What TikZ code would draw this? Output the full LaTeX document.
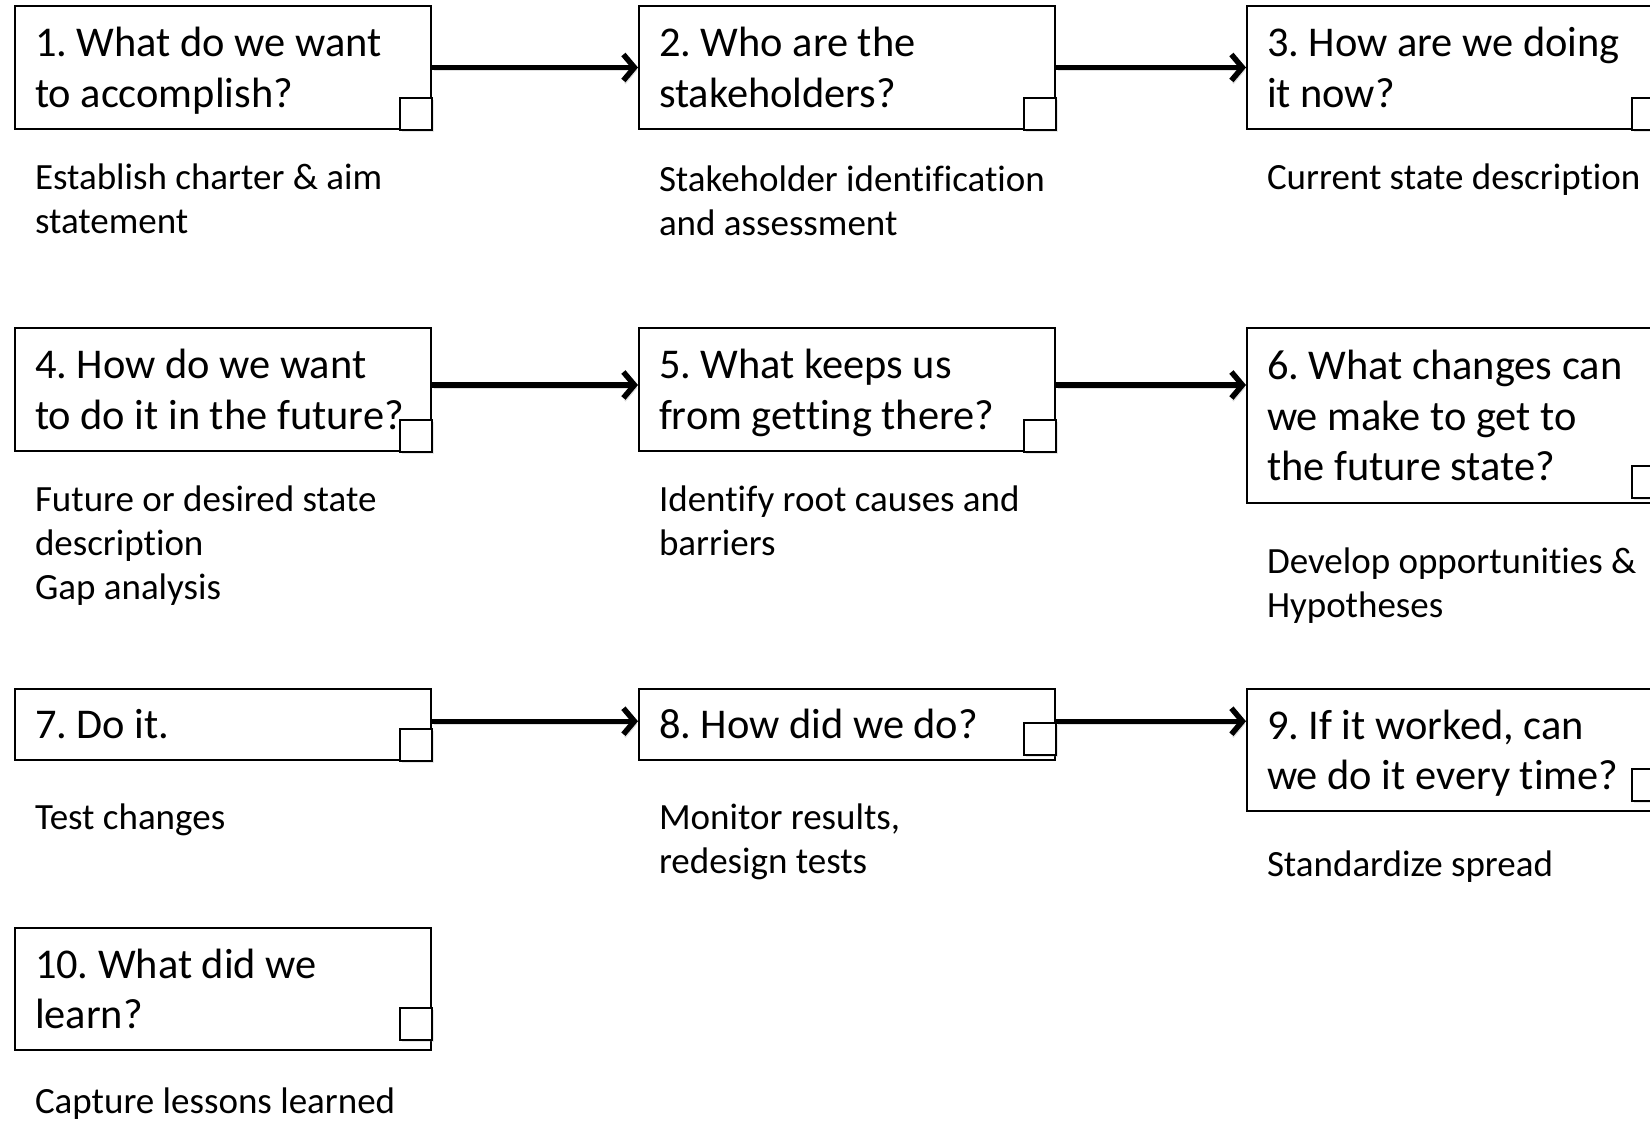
\documentclass[tikz,border=0pt]{standalone}
\usepackage{fontspec}
\setmainfont{Carlito}[Ligatures=NoCommon]
\usetikzlibrary{arrows.meta,shadows}

\newcommand\nodesc[1]{\raisebox{0pt}[\height][0pt]{#1}}

\tikzset{every picture/.style={line width=2pt}}
\tikzset{
  stepbox/.style={draw, rectangle, anchor=north west, minimum width=416pt,
    text width=376pt, align=flush left, inner xsep=20pt, inner ysep=0pt,
    font=\fontsize{42.4}{50.5}\selectfont\frenchspacing},
  note/.style={anchor=north west, inner sep=0pt, align=flush left,
    font=\fontsize{37}{44}\selectfont\frenchspacing},
  flow/.style={line width=5.5pt, -{Straight Barb[length=11pt,width=26pt]},
    preaction={draw=black!12, transform canvas={shift={(1.5pt,-3pt)}}}},
  checkbox/.style={draw, fill=white, line width=2pt,
    drop shadow={opacity=0.2, shadow xshift=2pt, shadow yshift=-2pt}}
}

\begin{document}
\begin{tikzpicture}[x=1pt,y=1pt,yscale=-1,xscale=1]
\useasboundingbox (0,0) rectangle (1650,1121);
\clip (0,0) rectangle (1650,1121);

% Row 1
\node[stepbox, minimum height=123pt] (b1) at (14,5) {1. What do we want\\\nodesc{to accomplish?}};
\node[stepbox, minimum height=123pt] (b2) at (638,5) {2. Who are the\\stakeholders?};
\node[stepbox, minimum height=123pt] (b3) at (1246,5) {3. How are we doing\\it now?};
% Row 2
\node[stepbox, minimum height=123pt] (b4) at (14,327) {4. How do we want\\to do it in the future?};
\node[stepbox, minimum height=123pt] (b5) at (638,327) {5. What keeps us\\\nodesc{from getting there?}};
\node[stepbox, minimum height=175pt] (b6) at (1246,327) {6. What changes can\\we make to get to\\the future state?};
% Row 3
\node[stepbox, minimum height=70.5pt] (b7) at (14,688) {7. Do it.};
\node[stepbox, minimum height=70.5pt] (b8) at (638,688) {8. How did we do?};
\node[stepbox, minimum height=122pt] (b9) at (1246,688) {9. If it worked, can\\\nodesc{we do it every time?}};
% Row 4
\node[stepbox, minimum height=122pt] (b10) at (14,927) {10. What did we\\learn?};

% small squares
\foreach \b/\o in {b1/0,b2/0,b3/0,b4/0,b5/0,b6/6,b7/0,b8/6,b9/10.7,b10/10.7}
  \draw[checkbox] ([yshift=-\o pt]\b.south east) rectangle ++(-32,-32);

% Arrows
\draw[flow] (b1.east) -- (b2.west);
\draw[flow] (b2.east) -- (b3.west);
\draw[flow] ([yshift=-4.5pt]b4.east) -- ([yshift=-4.5pt]b5.west);
\draw[flow] ([yshift=-4.5pt]b5.east) -- ([yshift=-4.5pt]b5.east -| b6.west);
\draw[flow] ([yshift=-3pt]b7.east) -- ([yshift=-3pt]b8.west);
\draw[flow] ([yshift=-3pt]b8.east) -- ([yshift=-3pt]b8.east -| b9.west);

% Text Node
\node[note] (n1) at (34,158) {\strut Establish charter \& aim\\statement};
% Text Node
\node[note] (n2) at (658,160) {\strut Stakeholder identification\\and assessment};
% Text Node
\node[note] (n3) at (1266,158) {\strut Current state description};
% Text Node
\node[note] (n4) at (34,480) {\strut Future or desired state\\description\\Gap analysis};
% Text Node
\node[note] (n5) at (658,480) {\strut Identify root causes and\\barriers};
% Text Node
\node[note] (n6) at (1266,542) {\strut Develop opportunities \&\\Hypotheses};
% Text Node
\node[note] (n7) at (34,798) {\strut Test changes};
% Text Node
\node[note] (n8) at (658,798) {\strut Monitor results,\\redesign tests};
% Text Node
\node[note] (n9) at (1266,845) {\strut Standardize spread};
% Text Node
\node[note] (n10) at (34,1082) {\strut Capture lessons learned};

\end{tikzpicture}
\end{document}
